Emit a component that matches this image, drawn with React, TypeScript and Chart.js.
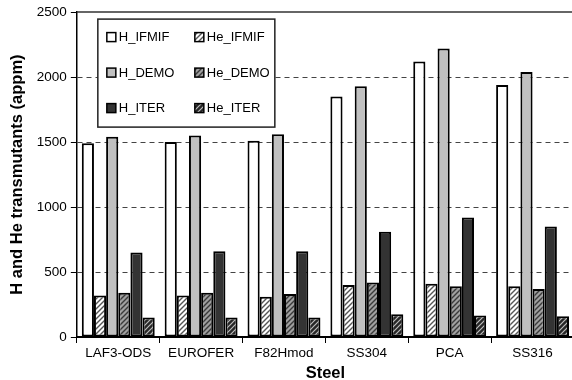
import React, { useEffect, useRef } from 'react';
import { Chart, registerables } from 'chart.js';

Chart.register(...registerables);

const categories = ['LAF3-ODS', 'EUROFER', 'F82Hmod', 'SS304', 'PCA', 'SS316'];
const hIFMIF = [1490, 1500, 1510, 1850, 2120, 1940];
const heIFMIF = [320, 320, 310, 400, 410, 390];
const hDEMO = [1540, 1550, 1560, 1930, 2220, 2040];
const heDEMO = [340, 340, 330, 420, 390, 370];
const hITER = [650, 660, 660, 810, 920, 850];
const heITER = [150, 150, 150, 175, 165, 160];
const yTicks = [0, 500, 1000, 1500, 2000, 2500];

const FONT = '"Liberation Sans", Arial, Helvetica, sans-serif';

function makePattern(bg: string, stripe: string, lw: number): CanvasPattern | string {
  const c = document.createElement('canvas');
  c.width = 5;
  c.height = 5;
  const g = c.getContext('2d');
  if (!g) return bg;
  g.fillStyle = bg;
  g.fillRect(0, 0, 5, 5);
  g.strokeStyle = stripe;
  g.lineWidth = lw;
  g.beginPath();
  g.moveTo(-1, 6);
  g.lineTo(6, -1);
  g.moveTo(-1, 1);
  g.lineTo(1, -1);
  g.moveTo(4, 6);
  g.lineTo(6, 4);
  g.stroke();
  const p = g.createPattern(c, 'repeat');
  return p || bg;
}

const frameLegendPlugin = {
  id: 'frameLegend',
  beforeDatasetsDraw(chart: any) {
    const { ctx, chartArea } = chart;
    ctx.save();
    ctx.strokeStyle = '#333';
    ctx.lineWidth = 1.5;
    ctx.beginPath();
    ctx.moveTo(chartArea.left, chartArea.top);
    ctx.lineTo(chartArea.right, chartArea.top);
    ctx.stroke();
    ctx.restore();
  },
  afterDraw(chart: any) {
    const { ctx, chartArea } = chart;
    const x0 = chartArea.left + 21;
    const y0 = chartArea.top + 7;
    const w = 177;
    const h = 108;
    ctx.save();
    ctx.fillStyle = '#fff';
    ctx.fillRect(x0, y0, w, h);
    ctx.strokeStyle = '#222';
    ctx.lineWidth = 1.5;
    ctx.strokeRect(x0, y0, w, h);
    chart.data.datasets.forEach((ds: any, i: number) => {
      const col = i % 2;
      const row = Math.floor(i / 2);
      const sx = x0 + 9 + col * 88;
      const cy = y0 + 18 + row * 35.5;
      ctx.fillStyle = ds.backgroundColor;
      ctx.fillRect(sx, cy - 4.5, 9, 9);
      ctx.strokeStyle = '#000';
      ctx.lineWidth = 1.5;
      ctx.strokeRect(sx, cy - 4.5, 9, 9);
      ctx.fillStyle = '#000';
      ctx.font = '13px ' + FONT;
      ctx.textBaseline = 'middle';
      ctx.textAlign = 'left';
      ctx.fillText(ds.label, sx + 12, cy + 0.5);
    });
    ctx.restore();
  },
};

export default function App() {
  const ref = useRef<HTMLCanvasElement | null>(null);

  useEffect(() => {
    const canvas = ref.current;
    if (!canvas) return;
    Chart.defaults.font.family = FONT;
    Chart.defaults.color = '#000';

    const common = {
      borderColor: '#000',
      borderWidth: 2,
      borderSkipped: false as const,
      categoryPercentage: 0.88,
      barPercentage: 1.0,
    };

    const chart = new Chart(canvas, {
      type: 'bar',
      data: {
        labels: categories,
        datasets: [
          { label: 'H_IFMIF', data: hIFMIF, backgroundColor: '#ffffff', ...common },
          { label: 'He_IFMIF', data: heIFMIF, backgroundColor: makePattern('#ffffff', '#555555', 1.4) as any, ...common },
          { label: 'H_DEMO', data: hDEMO, backgroundColor: '#c0c0c0', ...common },
          { label: 'He_DEMO', data: heDEMO, backgroundColor: makePattern('#a0a0a0', '#3a3a3a', 1.4) as any, ...common },
          { label: 'H_ITER', data: hITER, backgroundColor: '#333333', ...common },
          { label: 'He_ITER', data: heITER, backgroundColor: makePattern('#262626', '#bdbdbd', 1.2) as any, ...common },
        ],
      },
      options: {
        responsive: false,
        animation: false,
        devicePixelRatio: 1,
        layout: { padding: { left: 8, top: 12, right: 2, bottom: 0 } },
        plugins: {
          legend: { display: false },
          tooltip: { enabled: false },
        },
        scales: {
          x: {
            offset: true,
            ticks: { color: '#000', font: { size: 13.5 }, padding: 2, maxRotation: 0, autoSkip: false },
            grid: { drawOnChartArea: false, drawTicks: true, tickLength: 6, tickColor: '#000', offset: true },
            border: { color: '#000', width: 2 },
            title: {
              display: true,
              text: 'Steel',
              color: '#000',
              font: { size: 16.5, weight: 'bold' },
              padding: { top: 0, bottom: 0 },
            },
          },
          y: {
            min: 0,
            max: 2500,
            afterBuildTicks: (scale: any) => {
              scale.ticks = yTicks.map((v) => ({ value: v }));
            },
            ticks: {
              color: '#000',
              font: { size: 13.5 },
              padding: 4,
              callback: (v: any) => String(v),
            },
            grid: {
              color: (c: any) =>
                c.tick && (c.tick.value === 0 || c.tick.value === 2500) ? 'rgba(0,0,0,0)' : '#444',
              lineWidth: 1,
              tickColor: '#000',
              tickLength: 6,
              drawTicks: true,
            },
            border: { color: '#000', width: 1.5, dash: [5, 4] },
            title: {
              display: true,
              text: 'H and He transmutants (appm)',
              color: '#000',
              font: { size: 16.5, weight: 'bold' },
              padding: { top: 0, bottom: 5 },
            },
          },
        },
      },
      plugins: [frameLegendPlugin],
    } as any);

    return () => chart.destroy();
  }, []);

  return (
    <div
      style={{
        position: 'fixed',
        left: 0,
        top: 0,
        width: 572,
        height: 380,
        overflow: 'hidden',
        background: '#fff',
      }}
    >
      <canvas ref={ref} width={576} height={383} style={{ width: 576, height: 383, display: 'block' }} />
    </div>
  );
}
